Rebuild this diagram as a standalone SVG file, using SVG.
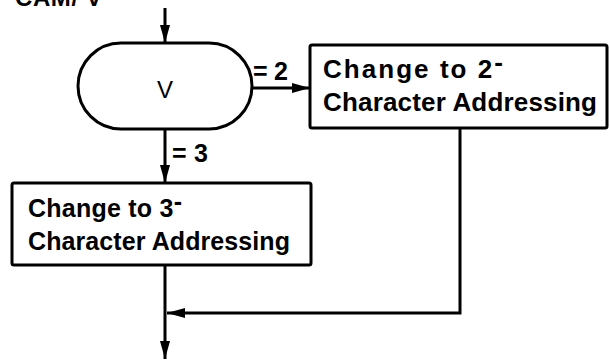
<svg xmlns="http://www.w3.org/2000/svg" width="610" height="360" viewBox="0 0 610 360">
<style>
.sh{fill:#fff;stroke:#000;stroke-width:3}
.ln{fill:none;stroke:#000;stroke-width:3}
.t{font-family:"Liberation Sans",Arial,sans-serif;font-weight:bold;fill:#000}
</style>
<defs>
<marker id="ah" viewBox="0 0 18 10" refX="18" refY="5" markerWidth="18" markerHeight="10" markerUnits="userSpaceOnUse" orient="auto">
<path d="M0,0 L18,5 L0,10 Z" fill="#000"/>
</marker>
</defs>
<rect width="610" height="360" fill="#fff"/>
<text class="t" x="15" y="6" font-size="24" textLength="87">CAM/ V</text>
<g id="connectors">
<line class="ln" x1="165" y1="8" x2="165" y2="43" marker-end="url(#ah)"/>
<line class="ln" x1="252" y1="88" x2="310" y2="88" marker-end="url(#ah)"/>
<line class="ln" x1="165" y1="129" x2="165" y2="183" marker-end="url(#ah)"/>
<polyline class="ln" points="460,128 460,313 167,313" marker-end="url(#ah)"/>
<line class="ln" x1="165" y1="265" x2="165" y2="359" marker-end="url(#ah)"/>
<text class="t" x="253" y="80" font-size="25" textLength="35">=2</text>
<text class="t" x="172" y="162" font-size="25" textLength="36">=3</text>
</g>
<g id="decision">
<rect class="sh" x="78" y="43" width="174" height="86" rx="43"/>
<text x="165" y="98" font-size="24" text-anchor="middle" style="font-family:'Liberation Sans',Arial,sans-serif;fill:#000">V</text>
</g>
<g id="box2">
<rect class="sh" x="310" y="45" width="297" height="83" rx="2"/>
<text class="t" x="323" y="78" font-size="26" textLength="180">Change to 2<tspan dy="-7">-</tspan></text>
<text class="t" x="323" y="111" font-size="26" textLength="274">Character Addressing</text>
</g>
<g id="box3">
<rect class="sh" x="12" y="183" width="299" height="82" rx="2"/>
<text class="t" x="28" y="217" font-size="25" textLength="154">Change to 3<tspan dy="-7">-</tspan></text>
<text class="t" x="28" y="250" font-size="25" textLength="262">Character Addressing</text>
</g>
</svg>
